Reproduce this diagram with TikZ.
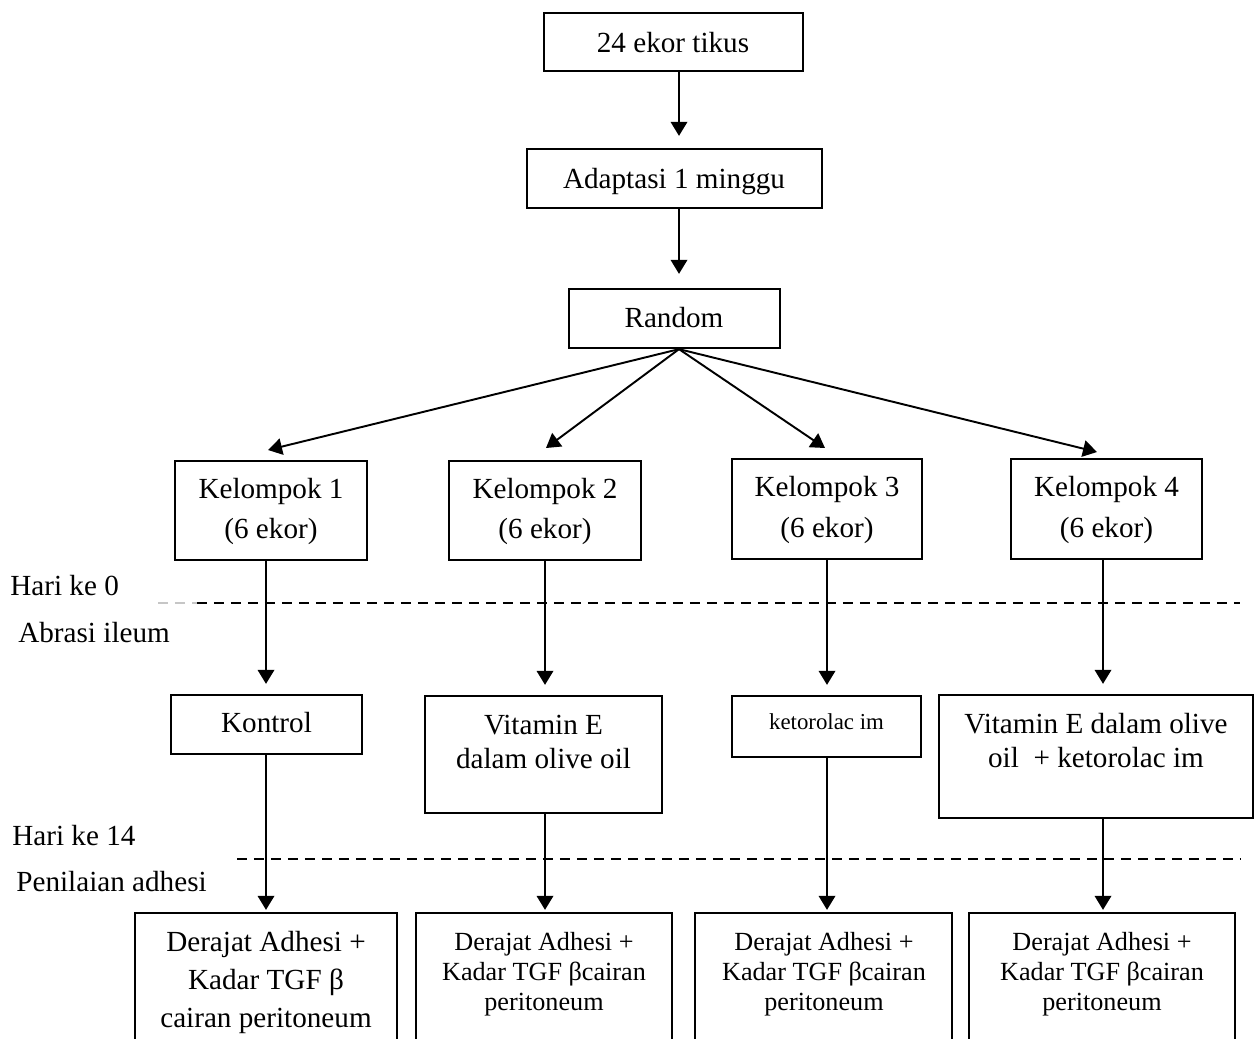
\documentclass[tikz,border=0pt]{standalone}
\usepackage{fontspec}
\setmainfont{Liberation Serif}
\usetikzlibrary{arrows.meta,fit,calc}
\begin{document}
\begin{tikzpicture}[x=0.02cm,y=-0.02cm,
  box/.style={draw, line width=1.3pt, inner sep=0pt},
  conn/.style={line width=1.1pt, -{Triangle[length=0.28cm,width=0.33cm]}},
  txt/.style={inner sep=0pt, align=center, font=\fontsize{16.6pt}{23pt}\selectfont},
  txtb/.style={inner sep=0pt, align=center, font=\fontsize{16.6pt}{19.8pt}\selectfont},
  txtc/.style={inner sep=0pt, align=center, font=\fontsize{16.6pt}{21.6pt}\selectfont},
  txts/.style={inner sep=0pt, align=center, font=\fontsize{14.9pt}{17pt}\selectfont},
  txtk/.style={inner sep=0pt, align=center, font=\fontsize{13pt}{15pt}\selectfont},
  side/.style={inner sep=0pt, anchor=base west, font=\fontsize{16.6pt}{20pt}\selectfont},
  sep/.style={line width=1.3pt, dash pattern=on 0.2cm off 0.14cm}]
\useasboundingbox (0,0) rectangle (1254,1038);
\clip (0,0) rectangle (1254,1038);

% column x positions
\coordinate (cx0) at (679,0);
\coordinate (cx1) at (266,0);
\coordinate (cx2) at (545,0);
\coordinate (cx3) at (827,0);
\coordinate (cx4) at (1103,0);

% top chain
\node[box, fit={(544,13) (803,71)}] (b24) {};
\node[txt, anchor=base] (l24) at (673,52) {24 ekor tikus};
\node[box, fit={(527,149) (822,208)}] (bad) {};
\node[txt, anchor=base] (lad) at (674,188) {Adaptasi 1 minggu};
\node[box, fit={(569,289) (780,348)}] (brd) {};
\node[txt, anchor=base] (lrd) at (674,327) {Random};

\draw[conn, shorten >=0.24cm] (b24.south -| cx0) -- (bad.north -| cx0);
\draw[conn, shorten >=0.28cm] (bad.south -| cx0) -- (brd.north -| cx0);

% groups
\node[box, fit={(175,461) (367,560)}] (k1) {};
\node[box, fit={(449,461) (641,560)}] (k2) {};
\node[box, fit={(732,459) (922,559)}] (k3) {};
\node[box, fit={(1011,459) (1202,559)}] (k4) {};
\node[txt] (lk1) at ($(k1.center)+(0,1)$) {Kelompok 1\\(6 ekor)};
\node[txt] (lk2) at ($(k2.center)+(0,1)$) {Kelompok 2\\(6 ekor)};
\node[txt] (lk3) at ($(k3.center)+(0,1)$) {Kelompok 3\\(6 ekor)};
\node[txt] (lk4) at ($(k4.center)+(0,1)$) {Kelompok 4\\(6 ekor)};

\coordinate (s0) at (brd.south -| cx0);
\coordinate (p1) at (268,450);
\coordinate (p2) at (546,448);
\coordinate (p3) at (825,448);
\coordinate (p4) at (1097,452);
\draw[conn] (s0) -- (p1);
\draw[conn] (s0) -- (p2);
\draw[conn] (s0) -- (p3);
\draw[conn] (s0) -- (p4);

% day 0 separator
\node[side] (h0) at (10,595) {Hari ke 0};
\node[side] (ab) at (18,642) {Abrasi ileum};
\coordinate (d0a) at (158,603);
\coordinate (d0b) at (197,603);
\coordinate (d0c) at (1240,603);
\draw[sep, gray!45] (d0a) -- (d0b);
\draw[sep] (d0b) -- (d0c);

% treatments
\node[box, fit={(171,695) (362,754)}] (t1) {};
\node[box, fit={(425,696) (662,813)}] (t2) {};
\node[box, fit={(732,696) (921,757)}] (t3) {};
\node[box, fit={(939,695) (1253,818)}] (t4) {};
\node[txt] (lt1) at (266.5,723) {Kontrol};
\node[txtb] (lt2) at (543.5,742) {Vitamin E\\dalam olive oil};
\node[txtk] (lt3) at (826.5,722) {ketorolac im};
\node[txtb] (lt4) at (1096,740.5) {Vitamin E dalam olive\\oil~ + ketorolac im};

\draw[conn, shorten >=0.2cm] (k1.south -| cx1) -- (t1.north -| cx1);
\draw[conn, shorten >=0.2cm] (k2.south -| cx2) -- (t2.north -| cx2);
\draw[conn, shorten >=0.2cm] (k3.south -| cx3) -- (t3.north -| cx3);
\draw[conn, shorten >=0.2cm] (k4.south -| cx4) -- (t4.north -| cx4);

% day 14 separator
\node[side] (h14) at (12,845) {Hari ke 14};
\node[side] (pa) at (16,891) {Penilaian adhesi};
\coordinate (d1a) at (237,859);
\coordinate (d1b) at (1240,859);
\draw[sep] (d1a) -- (d1b);

% results
\node[box, fit={(135,913) (397,1060)}] (r1) {};
\node[box, fit={(416,913) (672,1060)}] (r2) {};
\node[box, fit={(695,913) (952,1060)}] (r3) {};
\node[box, fit={(969,913) (1235,1060)}] (r4) {};
\node[txtc] (lr1) at (266,982.5) {Derajat Adhesi +\\Kadar TGF β\\cairan peritoneum};
\node[txts] (lr2) at (544,974) {Derajat Adhesi +\\Kadar TGF βcairan\\peritoneum};
\node[txts] (lr3) at (824,974) {Derajat Adhesi +\\Kadar TGF βcairan\\peritoneum};
\node[txts] (lr4) at (1102,974) {Derajat Adhesi +\\Kadar TGF βcairan\\peritoneum};

\draw[conn, shorten >=0.04cm] (t1.south -| cx1) -- (r1.north -| cx1);
\draw[conn, shorten >=0.04cm] (t2.south -| cx2) -- (r2.north -| cx2);
\draw[conn, shorten >=0.04cm] (t3.south -| cx3) -- (r3.north -| cx3);
\draw[conn, shorten >=0.04cm] (t4.south -| cx4) -- (r4.north -| cx4);
\end{tikzpicture}
\end{document}
